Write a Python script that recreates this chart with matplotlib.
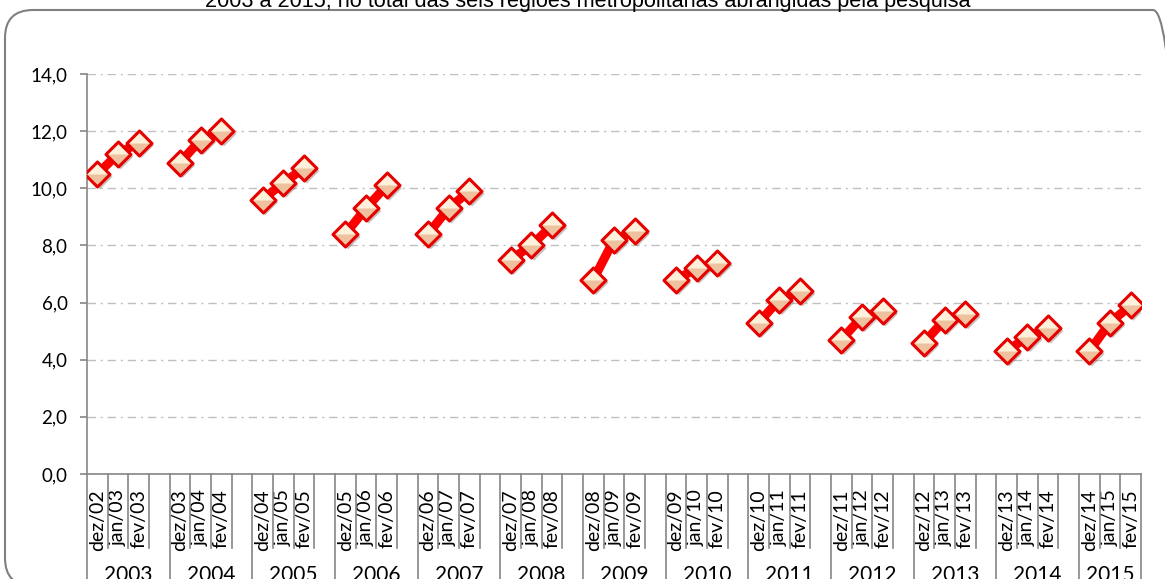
import numpy as np
import matplotlib
matplotlib.use('Agg')
import matplotlib.pyplot as plt
import matplotlib.patheffects as pe
import matplotlib.transforms as mtransforms
from matplotlib.path import Path
from matplotlib.patches import FancyBboxPatch

# taxa de desocupacao (%) - dez, jan e fev de cada ano
anos = ['2003', '2004', '2005', '2006', '2007', '2008', '2009',
        '2010', '2011', '2012', '2013', '2014', '2015']
meses = ['dez/02', 'jan/03', 'fev/03', 'dez/03', 'jan/04', 'fev/04',
         'dez/04', 'jan/05', 'fev/05', 'dez/05', 'jan/06', 'fev/06',
         'dez/06', 'jan/07', 'fev/07', 'dez/07', 'jan/08', 'fev/08',
         'dez/08', 'jan/09', 'fev/09', 'dez/09', 'jan/10', 'fev/10',
         'dez/10', 'jan/11', 'fev/11', 'dez/11', 'jan/12', 'fev/12',
         'dez/12', 'jan/13', 'fev/13', 'dez/13', 'jan/14', 'fev/14',
         'dez/14', 'jan/15', 'fev/15']
taxa = [10.5, 11.2, 11.6, 10.9, 11.7, 12.0, 9.6, 10.2, 10.7,
        8.4, 9.3, 10.1, 8.4, 9.3, 9.9, 7.5, 8.0, 8.7,
        6.8, 8.2, 8.5, 6.8, 7.2, 7.4, 5.3, 6.1, 6.4,
        4.7, 5.5, 5.7, 4.6, 5.4, 5.6, 4.3, 4.8, 5.1,
        4.3, 5.3, 5.9]
titulo = '2003 a 2015, no total das seis regiões metropolitanas abrangidas pela pesquisa'

W, H = 1165, 579
CINZA = '#868686'
FONTE = 'Lato'

fig = plt.figure(figsize=(W / 100, H / 100), dpi=100)
ax = fig.add_axes([87 / W, 1 - 474 / H, (1141 - 87) / W, 400 / H])

# cada ano ocupa 4 posicoes (3 meses + 1 vazia), o ultimo so 3
x = np.array([(i // 3) * 4 + i % 3 for i in range(len(taxa))])
y = np.array(taxa)
n_pos = (len(anos) - 1) * 4 + 3

# linhas grossas dentro de cada ano
for g in range(len(anos)):
    ax.plot(x[3 * g:3 * g + 3], y[3 * g:3 * g + 3], color='#FF0000', lw=6.5,
            solid_capstyle='butt', zorder=3)

losango = Path([(0, 1), (1, 0), (0, -1), (-1, 0), (0, 1)], closed=True)
metade = Path([(-1, 0), (0, 1), (1, 0), (-1, 0)], closed=True)
ms = 18
ax.plot(x, y, ls='none', marker=losango, ms=ms, mfc='#EEC29E', mec='none',
        zorder=4, path_effects=[pe.SimplePatchShadow(offset=(2, -2), alpha=0.3),
                                pe.Normal()])
ax.plot(x, y, ls='none', marker=metade, ms=ms, mfc='#FEF1DC', mec='none', zorder=5)
ax.plot(x, y, ls='none', marker=losango, ms=ms, mfc='none', mec='#E60000',
        mew=2.2, zorder=6)

ax.set_xlim(-0.5, n_pos - 0.5)
ax.set_ylim(0, 14)
ax.set_yticks(np.arange(0, 15, 2))
ax.set_yticklabels([('%.1f' % v).replace('.', ',') for v in np.arange(0, 15, 2)],
                   fontsize=13.5, family=FONTE)
ax.yaxis.grid(True, color='#BFBFBF', lw=1, ls=(0, (6, 3.5, 1.5, 3.5)))
ax.set_axisbelow(True)
ax.tick_params(axis='y', length=5, width=1.2, color=CINZA, pad=9)

ax.set_xticks(x)
ax.set_xticklabels(meses, rotation=90, va='top', ha='center', fontsize=14,
                   family=FONTE)
ax.tick_params(axis='x', length=0, pad=11)

for lado in ['top', 'right']:
    ax.spines[lado].set_visible(False)
for lado in ['left', 'bottom']:
    ax.spines[lado].set_color(CINZA)
    ax.spines[lado].set_linewidth(1.2)

# divisorias das categorias embaixo do eixo
trans = mtransforms.blended_transform_factory(ax.transData, ax.transAxes)
for p in range(n_pos + 1):
    b = p - 0.5
    longa = (p % 4 == 0) or p == n_pos
    ax.plot([b, b], [0, -0.3 if longa else -0.185], transform=trans,
            clip_on=False, color=CINZA, lw=1.2)

for g, ano in enumerate(anos):
    fim = min(4 * g + 3, n_pos - 1)
    ax.text((4 * g + fim) / 2, -0.228, ano, transform=trans, ha='center',
            va='top', fontsize=15, family=FONTE)

# moldura arredondada (em pixels)
moldura = FancyBboxPatch((5, -7), 1176, H - 10 + 7,
                         boxstyle='round,pad=0,rounding_size=28',
                         transform=mtransforms.IdentityTransform(), fc='none',
                         ec='#808080', lw=1.5)
fig.add_artist(moldura)

fig.text(588 / W, 1 - 6.5 / H, titulo, ha='center', va='baseline',
         fontsize=15.6, family='Liberation Sans')

fig.savefig('out.png', dpi=100)
